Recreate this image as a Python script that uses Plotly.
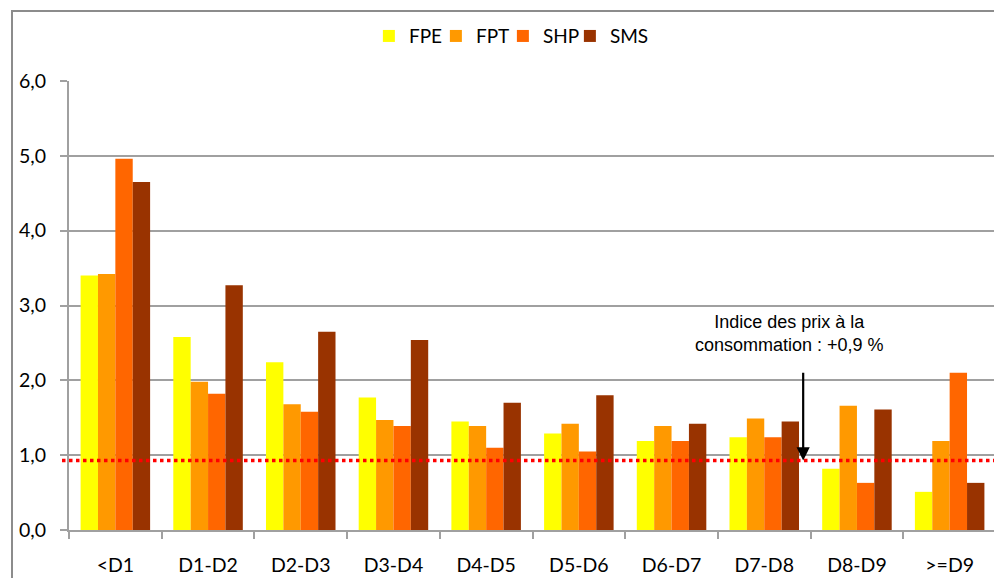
import plotly.graph_objects as go

categories = ["<D1", "D1-D2", "D2-D3", "D3-D4", "D4-D5", "D5-D6", "D6-D7", "D7-D8", "D8-D9", ">=D9"]
fpe = [3.40, 2.58, 2.24, 1.77, 1.45, 1.29, 1.19, 1.24, 0.82, 0.51]
fpt = [3.42, 1.98, 1.68, 1.47, 1.39, 1.42, 1.39, 1.49, 1.66, 1.19]
shp = [4.96, 1.82, 1.58, 1.39, 1.10, 1.05, 1.19, 1.24, 0.63, 2.10]
sms = [4.65, 3.27, 2.65, 2.54, 1.70, 1.80, 1.42, 1.45, 1.61, 0.63]
series_names = ["FPE", "FPT", "SHP", "SMS"]
series_colors = ["#FFFF00", "#FF9900", "#FF6600", "#993300"]
ipc_value = 0.93
ipc_label = "Indice des prix à la<br>consommation : +0,9 %"
y_ticks = [0, 1, 2, 3, 4, 5, 6]
y_ticklabels = ["0,0", "1,0", "2,0", "3,0", "4,0", "5,0", "6,0"]

fig = go.Figure()
for name, vals, col in zip(series_names, [fpe, fpt, shp, sms], series_colors):
    fig.add_trace(go.Bar(x=categories, y=vals, name=name, marker=dict(color=col, line=dict(width=0))))
# invisible spacer entry so the last legend label is not clipped
fig.add_trace(go.Scatter(x=[None], y=[None], mode="markers", name=" ",
                         marker=dict(color="rgba(0,0,0,0)"), hoverinfo="skip", showlegend=True))

# the page body has an 8px margin: figure is sized to fit the 1002x578 window
W, H = 994, 570
ml, mr, mt, mb = 61, 6, 73, 48
pw, ph = W - ml - mr, H - mt - mb

# outer chart frame (page x=12, y=11)
fig.add_shape(type="rect", xref="paper", yref="paper",
              x0=(4 - ml) / pw, x1=1.2, y0=-0.3, y1=(H - mb - 3) / ph,
              line=dict(color="#8C8C8C", width=2), fillcolor="rgba(0,0,0,0)", layer="below")
# CPI line
fig.add_shape(type="line", xref="paper", yref="y",
              x0=-7 / pw, x1=1.01, y0=ipc_value, y1=ipc_value,
              line=dict(color="#FF0000", width=3.5, dash="dot"))

fig.add_annotation(x=7.42, y=ipc_value, ax=7.42, ay=2.12, xref="x", yref="y", axref="x", ayref="y",
                   text="", showarrow=True, arrowhead=2, arrowsize=1.2, arrowwidth=2.2, arrowcolor="#000000")
fig.add_annotation(x=7.27, y=2.63, xref="x", yref="y", text=ipc_label, showarrow=False,
                   font=dict(family="Liberation Sans, Arial", size=18, color="#000000"), align="center")

fig.update_layout(
    width=W, height=H,
    margin=dict(l=ml, r=mr, t=mt, b=mb, autoexpand=False),
    paper_bgcolor="white", plot_bgcolor="white",
    barmode="group", bargap=0.25, bargroupgap=0,
    font=dict(family="Lato, Carlito, Calibri, sans-serif", size=19.5, color="#000000"),
    showlegend=True,
    legend=dict(orientation="h", x=0.3235, y=1.10, xanchor="left", yanchor="middle",
                font=dict(size=19), itemwidth=30, entrywidth=22, traceorder="normal",
                bgcolor="rgba(0,0,0,0)"),
    xaxis=dict(type="category", showgrid=False, showline=True, linecolor="#A0A0A0", linewidth=2,
               ticks="outside", tickson="boundaries", ticklen=7, tickwidth=2, tickcolor="#A0A0A0",
               ticklabelstandoff=17, automargin=False, fixedrange=True),
    yaxis=dict(range=[0, 6], tickvals=y_ticks, ticktext=y_ticklabels, showgrid=True,
               gridcolor="#A0A0A0", gridwidth=2, showline=True, linecolor="#A0A0A0", linewidth=2,
               ticks="outside", ticklen=7, tickwidth=2, tickcolor="#A0A0A0",
               ticklabelstandoff=10, zeroline=False, automargin=False, fixedrange=True),
)

fig.write_html("out.html")
